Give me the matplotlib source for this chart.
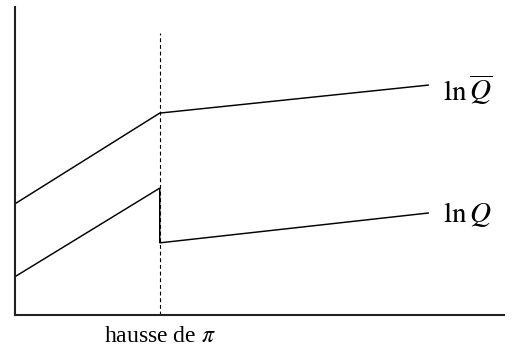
import matplotlib
matplotlib.use("Agg")
import matplotlib.pyplot as plt

plt.rcParams["mathtext.fontset"] = "stix"
plt.rcParams["font.family"] = ["Liberation Serif", "DejaVu Serif"]

# Time axis: the shock (rise in inflation) occurs at t_shock
t_shock = 2.97
t_end = 8.46

# Potential output ln Q-bar: kinked at the shock
qbar_t = [0.0, t_shock, t_end]
qbar_y = [3.59, 6.55, 7.46]

# Actual output ln Q: drops at the shock
q_t = [0.0, t_shock, t_shock, t_end]
q_y = [1.22, 4.11, 2.33, 3.30]

shock_top = 9.15

fig = plt.figure(figsize=(5.18, 3.49), dpi=100)
ax = fig.add_axes([14.5 / 518, (349 - 314.5) / 349, 489 / 518, 307.5 / 349])
ax.set_xlim(0, 10)
ax.set_ylim(0, 10)

ax.plot(qbar_t, qbar_y, color="black", lw=1.05, solid_joinstyle="miter")
ax.plot(q_t, q_y, color="black", lw=1.05, solid_joinstyle="miter")
ax.plot([t_shock, t_shock], [0, shock_top], color="black", lw=0.8,
        linestyle=(0, (3.5, 2.5)))

ax.text(t_end + 0.3, qbar_y[-1] - 0.15, r"$\ln\overline{Q}$", fontsize=21,
        ha="left", va="center")
ax.text(t_end + 0.3, q_y[-1] - 0.05, r"$\ln Q$", fontsize=21,
        ha="left", va="center")

ax.text(t_shock, -0.72, r"hausse de $\pi$", fontsize=17, ha="center",
        va="center")

for side in ("top", "right"):
    ax.spines[side].set_visible(False)
for side in ("left", "bottom"):
    ax.spines[side].set_linewidth(1.5)
    ax.spines[side].set_color("#222222")
ax.set_xticks([])
ax.set_yticks([])

fig.savefig("out.png", dpi=100)
